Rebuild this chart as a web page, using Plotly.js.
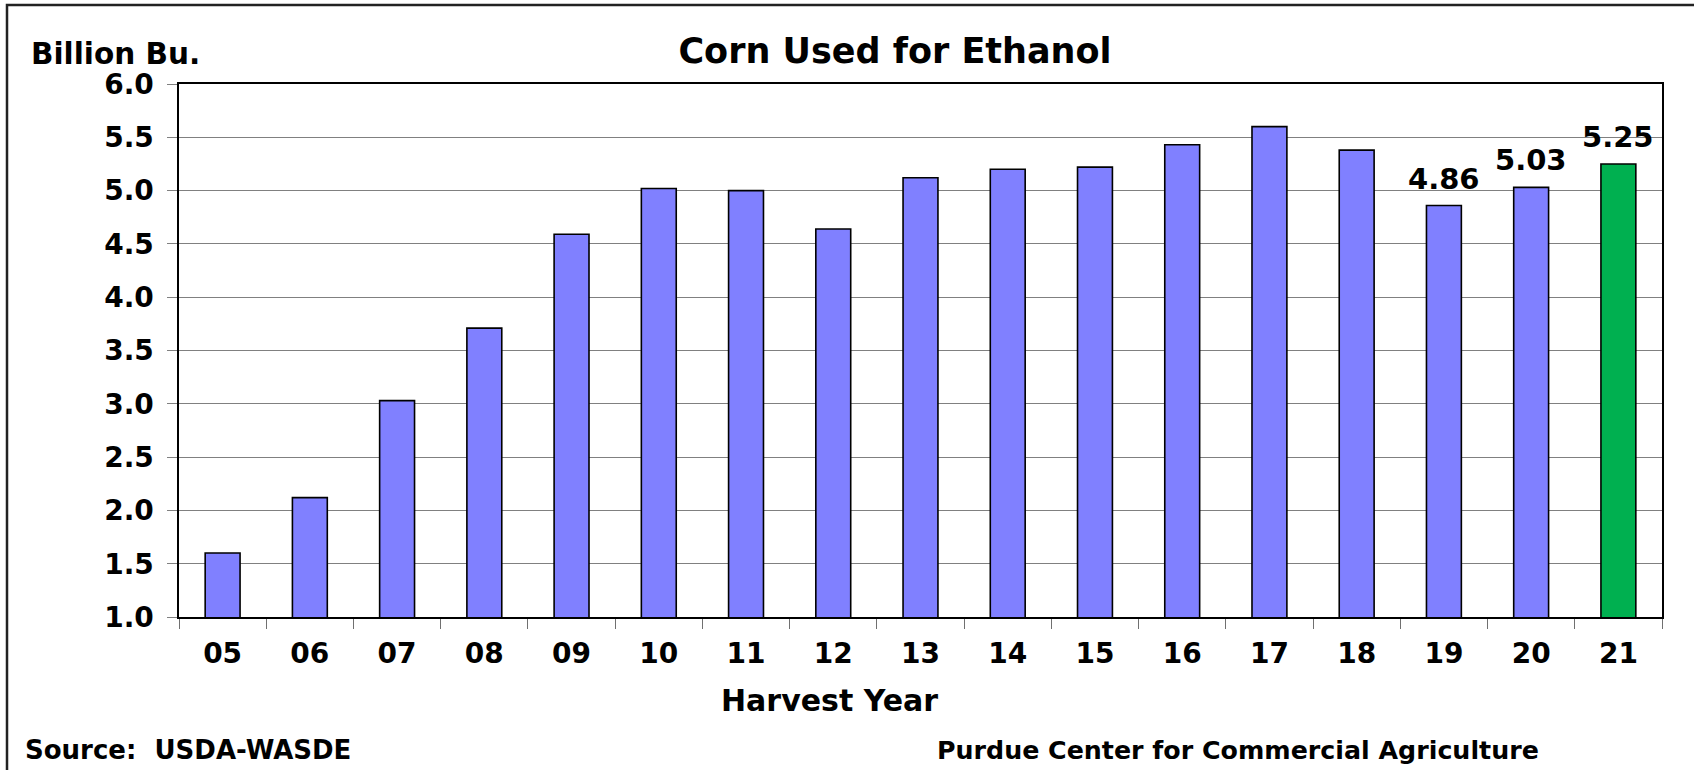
<!DOCTYPE html>
<html>
<head>
<meta charset="utf-8">
<script src="https://cdn.plot.ly/plotly-3.0.1.min.js"></script>
<style>
html,body{margin:0;padding:0;background:#fff;}
#chart{width:1694px;height:770px;}
</style>
</head>
<body>
<div id="chart"></div>
<script>
// Data
const harvestYears = ['05','06','07','08','09','10','11','12','13','14','15','16','17','18','19','20','21'];
const cornForEthanol = [1.60, 2.12, 3.03, 3.71, 4.59, 5.02, 5.00, 4.64, 5.12, 5.20, 5.22, 5.43, 5.60, 5.38, 4.86, 5.03, 5.25];
const labeledYears = ['19','20','21'];
const projectedYear = '21';
const yTickValues = [1.0, 1.5, 2.0, 2.5, 3.0, 3.5, 4.0, 4.5, 5.0, 5.5, 6.0];

const FONT = 'DejaVu Sans, Verdana, sans-serif';
const L = 179, R = 1662, T = 84, B = 617, W = 1694, H = 770;
const pw = R - L, ph = B - T;
const px = x => (x - L) / pw;
const py = y => (B - y) / ph;

const barColors = harvestYears.map(y => y === projectedYear ? '#00B050' : '#8080FF');

const trace = {
  type: 'bar',
  x: harvestYears,
  y: cornForEthanol,
  marker: {color: barColors, line: {color: '#000000', width: 1.6}},
  hoverinfo: 'x+y'
};

// value labels placed on the category axis by category index
const valueLabels = harvestYears
  .map((y, i) => ({y, i, v: cornForEthanol[i]}))
  .filter(d => labeledYears.includes(d.y))
  .map(d => ({
    text: '<b>' + d.v.toFixed(2) + '</b>', xref: 'x', yref: 'y', x: d.i, y: d.v,
    xanchor: 'center', yanchor: 'bottom', yshift: 8, showarrow: false,
    font: {family: FONT, size: 29, color: '#000000'}
  }));

const layout = {
  width: W, height: H,
  margin: {l: L, r: W - R, t: T, b: H - B, pad: 0},
  paper_bgcolor: '#ffffff',
  plot_bgcolor: '#ffffff',
  showlegend: false,
  bargap: 0.6,
  font: {family: FONT, color: '#000000', weight: 'bold'},
  title: {
    text: '<b>Corn Used for Ethanol</b>',
    font: {family: FONT, size: 35, color: '#000000'},
    xref: 'container', yref: 'container',
    x: 895 / W, y: 1 - 51 / H, xanchor: 'center', yanchor: 'middle'
  },
  xaxis: {
    type: 'category',
    showgrid: false,
    showline: true, linecolor: '#000000', linewidth: 2,
    mirror: true,
    ticks: 'outside', tickson: 'boundaries', ticklen: 10, tickcolor: '#707070', tickwidth: 1,
    tickfont: {family: FONT, size: 28, color: '#000000', weight: 'bold'},
    ticklabelstandoff: 10,
    fixedrange: true
  },
  yaxis: {
    range: [1.0, 6.0],
    tickvals: yTickValues,
    ticktext: yTickValues.map(v => v.toFixed(1)),
    showgrid: true, gridcolor: '#808080', gridwidth: 1,
    showline: true, linecolor: '#000000', linewidth: 1.6,
    mirror: true,
    ticks: 'outside', ticklen: 10, tickcolor: '#808080', tickwidth: 1,
    tickfont: {family: FONT, size: 28, color: '#000000', weight: 'bold'},
    ticklabelstandoff: 8,
    zeroline: false,
    fixedrange: true
  },
  shapes: [{
    type: 'rect', xref: 'paper', yref: 'paper',
    x0: px(7), x1: px(1760), y0: py(830), y1: py(5),
    line: {color: '#222222', width: 2.5}, fillcolor: 'rgba(0,0,0,0)', layer: 'below'
  }],
  annotations: valueLabels.concat([
    {text: '<b>Billion Bu.</b>', xref: 'paper', yref: 'paper', x: px(29), y: py(54),
     xanchor: 'left', yanchor: 'middle', showarrow: false,
     font: {family: FONT, size: 29.5, color: '#000000'}},
    {text: '<b>Harvest Year</b>', xref: 'paper', yref: 'paper', x: px(829), y: py(700),
     xanchor: 'center', yanchor: 'middle', showarrow: false,
     font: {family: FONT, size: 30, color: '#000000'}},
    {text: '<b>Source:  USDA-WASDE</b>', xref: 'paper', yref: 'paper', x: px(23), y: py(750),
     xanchor: 'left', yanchor: 'middle', showarrow: false,
     font: {family: FONT, size: 26, color: '#000000'}},
    {text: '<b>Purdue Center for Commercial Agriculture</b>', xref: 'paper', yref: 'paper', x: px(935), y: py(750),
     xanchor: 'left', yanchor: 'middle', showarrow: false,
     font: {family: FONT, size: 25.3, color: '#000000'}}
  ])
};

Plotly.newPlot('chart', [trace], layout, {displayModeBar: false, staticPlot: true});
</script>
</body>
</html>
